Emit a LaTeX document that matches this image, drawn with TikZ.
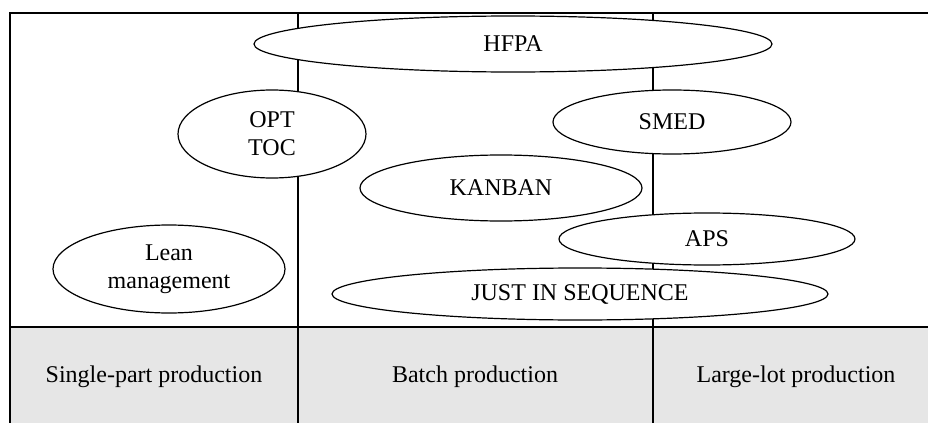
\documentclass[tikz,border=0pt]{standalone}
\usepackage{fontspec}
\setmainfont{Liberation Serif}
\usetikzlibrary{shapes.geometric}

\begin{document}
\begin{tikzpicture}[x=0.5pt, y=-0.5pt, font=\fontsize{12}{14}\selectfont]

      \tikzset{method/.style={draw, ellipse, fill=white, line width=.6pt, inner sep=0pt, align=center}}
      \tikzset{grid/.style={line width=.8pt}}
      \definecolor{rowgray}{RGB}{230,230,230}

      \useasboundingbox (0,0) rectangle (928,423);
      \clip (0,0) rectangle (928,423);
%% Table
      	\fill[rowgray] (10,327) rectangle (940,440);
      	\draw[grid] (10,13) rectangle (940,440);
      	\draw[grid] (10,327) -- (940,327);
      	\draw[grid] (298,13) -- (298,440);
      	\draw[grid] (653,13) -- (653,440);
%% Production types
      	\node (single) at (154,377) {Single-part production};
      	\node (batch) at (475,377) {Batch production};
      	\node (large) at (796,377) {Large-lot production};
%% Methods
      	\node[method, minimum width=259pt, minimum height=28pt] (hfpa) at (513,44) {HFPA};
      	\node[method, minimum width=94pt, minimum height=44pt] (opt) at (272,134) {OPT\\TOC};
      	\node[method, minimum width=119pt, minimum height=32pt] (smed) at (672,122) {SMED};
      	\node[method, minimum width=141pt, minimum height=33pt] (kanban) at (501,188) {KANBAN};
      	\node[method, minimum width=148pt, minimum height=26pt] (aps) at (707,239) {APS};
      	\node[method, minimum width=248pt, minimum height=26pt] (jis) at (580,294) {JUST IN SEQUENCE};
      	\node[method, minimum width=116pt, minimum height=44pt] (lean) at (169,269) {Lean\\management};

	\end{tikzpicture}
\end{document}
